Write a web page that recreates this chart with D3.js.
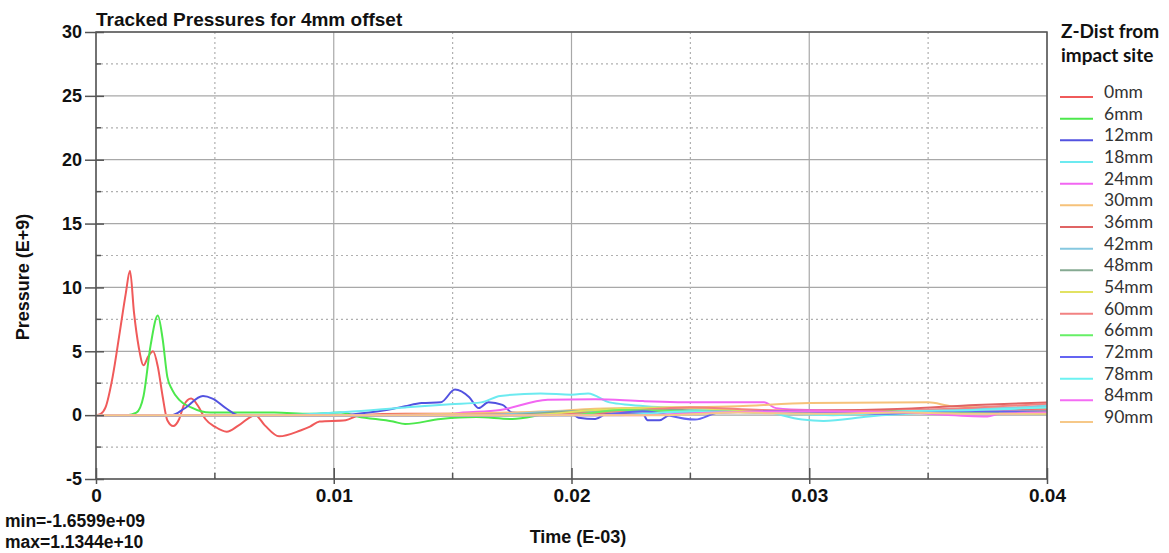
<!DOCTYPE html>
<html>
<head>
<meta charset="utf-8">
<script src="https://cdn.jsdelivr.net/npm/d3@7"></script>
<style>
  body { margin: 0; background: #fff; }
  svg { display: block; }
  .tick text { font-family: "Liberation Sans", Arial, sans-serif; font-weight: bold; font-size: 18px; fill: #111; }
  .xt .tick text { font-size: 19px; }
</style>
</head>
<body>
<svg id="chart" width="1169" height="553"></svg>
<script>
// Tick values
const yTicks = [-5, 0, 5, 10, 15, 20, 25, 30];
const yMinor = [-2.5, 2.5, 7.5, 12.5, 17.5, 22.5, 27.5];
const xTicks = [0, 0.01, 0.02, 0.03, 0.04];
const xMinor = [0.005, 0.015, 0.025, 0.035];

// Series names and colours
const seriesNames = ['0mm', '6mm', '12mm', '18mm', '24mm', '30mm', '36mm', '42mm',
    '48mm', '54mm', '60mm', '66mm', '72mm', '78mm', '84mm', '90mm'];
const seriesColors = ['#f05a5a', '#4ce84c', '#5252e0', '#6ceaf0', '#f266f2', '#f6c27a', '#e06464', '#86c8e0',
    '#86aa92', '#e2e262', '#f28282', '#66ef66', '#6464f2', '#6cf2f2', '#f46cf4', '#f6c888'];

// [time (E-03), pressure (E+9)]
const p0mm = [[0, 0], [0.0002, 0.1], [0.0004, 0.6], [0.0007, 3], [0.001, 6.5], [0.00125, 9.5], [0.00143, 11.3],
    [0.0016, 8], [0.0018, 5.3], [0.002, 3.9], [0.0022, 4.6], [0.0024, 5.0], [0.0026, 3.8], [0.0028, 1.5],
    [0.003, -0.4], [0.00325, -0.85], [0.0035, -0.3], [0.0037, 0.8], [0.004, 1.3], [0.0043, 0.7], [0.0046, -0.3],
    [0.005, -0.9], [0.0055, -1.3], [0.006, -0.8], [0.0067, 0], [0.0071, -0.8], [0.0077, -1.66], [0.0086, -1.2],
    [0.009, -0.9], [0.0094, -0.5], [0.0105, -0.4], [0.0111, 0], [0.013, 0.1], [0.016, 0.1], [0.02, 0.2],
    [0.025, 0.3], [0.03, 0.3], [0.035, 0.4], [0.04, 0.5]];
const p6mm = [[0, 0], [0.0013, 0], [0.0017, 0.2], [0.002, 1.5], [0.0023, 5.5], [0.0026, 7.8], [0.0028, 6],
    [0.003, 3], [0.0032, 2], [0.0035, 1.2], [0.004, 0.6], [0.0048, 0.2], [0.006, 0.2], [0.0075, 0.2],
    [0.009, 0.1], [0.0103, 0.2], [0.011, -0.1], [0.0125, -0.5], [0.013, -0.7], [0.0145, -0.3], [0.016, -0.15],
    [0.0175, -0.3], [0.019, 0.1], [0.021, 0.3], [0.025, 0.3], [0.03, 0.2], [0.035, 0.2], [0.04, 0.2]];
const p12mm = [[0, 0], [0.0032, 0], [0.0037, 0.5], [0.0045, 1.5], [0.0049, 1.3], [0.0055, 0.5], [0.006, 0],
    [0.008, 0], [0.0105, 0], [0.011, 0.1], [0.0125, 0.5], [0.013, 0.7], [0.0137, 0.95], [0.0145, 1.0],
    [0.0151, 2.0], [0.0157, 1.4], [0.0161, 0.55], [0.0165, 1.0], [0.0171, 0.8], [0.0175, 0.2], [0.0185, 0.1],
    [0.02, 0.1], [0.0203, -0.2], [0.021, -0.3], [0.0215, 0.1], [0.023, 0.1], [0.0232, -0.4], [0.0237, -0.4],
    [0.0241, 0], [0.026, 0.3], [0.03, 0.2], [0.035, 0.3], [0.04, 0.3]];
const p18mm = [[0, 0], [0.008, 0], [0.0095, 0.15], [0.0105, 0.25], [0.013, 0.6], [0.0149, 0.85], [0.0162, 1.0],
    [0.017, 1.5], [0.0187, 1.7], [0.02, 1.6], [0.0207, 1.7], [0.0216, 1.0], [0.0225, 0.8], [0.025, 0.5],
    [0.028, 0.3], [0.0297, -0.35], [0.0306, -0.45], [0.0325, -0.1], [0.035, 0.2], [0.038, 0.4], [0.04, 0.8]];
const p24mm = [[0, 0], [0.0148, 0], [0.015, 0.1], [0.017, 0.4], [0.019, 1.2], [0.021, 1.25], [0.023, 1.1],
    [0.0255, 1.0], [0.0281, 1.0], [0.0286, 0.55], [0.03, 0.4], [0.035, 0.3], [0.04, 0.3]];
const p30mm = [[0, 0], [0.01, 0], [0.015, 0.1], [0.019, 0.3], [0.021, 0.5], [0.024, 0.6], [0.027, 0.7],
    [0.03, 0.95], [0.035, 1.0], [0.036, 0.7], [0.038, 0.6], [0.04, 0.6]];
const p36mm = [[0, 0], [0.014, 0], [0.018, 0.05], [0.022, 0.2], [0.026, 0.3], [0.03, 0.35], [0.034, 0.5],
    [0.037, 0.8], [0.04, 1.0]];
const p42mm = [[0, 0], [0.016, 0], [0.02, 0.3], [0.024, 0.2], [0.028, 0.3], [0.032, 0.25], [0.036, 0.4], [0.04, 0.7]];
const p48mm = [[0, 0], [0.017, 0], [0.02, 0.3], [0.023, 0.5], [0.026, 0.3], [0.03, 0.15], [0.034, 0.2], [0.04, 0.3]];
const p54mm = [[0, 0], [0.018, 0], [0.021, 0.4], [0.024, 0.6], [0.027, 0.4], [0.031, 0.2], [0.035, 0.3], [0.04, 0.2]];
const p60mm = [[0, 0], [0.019, 0], [0.022, 0.3], [0.025, 0.6], [0.028, 0.4], [0.032, 0.3], [0.036, 0.5], [0.04, 0.9]];
const p66mm = [[0, 0], [0.02, 0], [0.022, 0.4], [0.025, 0.3], [0.029, 0.2], [0.031, 0.1], [0.034, 0.3],
    [0.037, 0.2], [0.04, 0.1]];
const p72mm = [[0, 0], [0.021, 0], [0.023, 0.3], [0.0252, -0.35], [0.0262, 0.2], [0.029, 0.3], [0.033, 0.1],
    [0.036, 0.3], [0.04, 0.2]];
const p78mm = [[0, 0], [0.022, 0], [0.025, 0.3], [0.028, 0.2], [0.031, 0.0], [0.034, 0.3], [0.037, 0.4], [0.04, 0.6]];
const p84mm = [[0, 0], [0.023, 0], [0.026, 0.2], [0.03, 0.3], [0.034, 0.2], [0.0375, -0.1], [0.038, 0.1], [0.04, 0.2]];
const p90mm = [[0, 0], [0.024, 0], [0.027, 0.2], [0.03, 0.1], [0.034, 0.2], [0.037, 0.1], [0.04, 0.1]];

const seriesData = [p0mm, p6mm, p12mm, p18mm, p24mm, p30mm, p36mm, p42mm,
    p48mm, p54mm, p60mm, p66mm, p72mm, p78mm, p84mm, p90mm];

const margin = { left: 96, top: 32, right: 1047, bottom: 479 };
const svg = d3.select('#chart');

const x = d3.scaleLinear().domain([0, 0.04]).range([margin.left, margin.right]);
const y = d3.scaleLinear().domain([-5, 30]).range([margin.bottom, margin.top]);

// Grid
const grid = svg.append('g');
grid.selectAll('.ymaj').data(yTicks).join('line')
    .attr('x1', margin.left).attr('x2', margin.right)
    .attr('y1', d => y(d)).attr('y2', d => y(d))
    .attr('stroke', '#a8a8a8').attr('stroke-width', 1.2);
grid.selectAll('.ymin').data(yMinor).join('line')
    .attr('x1', margin.left).attr('x2', margin.right)
    .attr('y1', d => y(d)).attr('y2', d => y(d))
    .attr('stroke', '#b0b0b0').attr('stroke-width', 1.2).attr('stroke-dasharray', '2,3');
grid.selectAll('.xmaj').data(xTicks).join('line')
    .attr('y1', margin.top).attr('y2', margin.bottom)
    .attr('x1', d => x(d)).attr('x2', d => x(d))
    .attr('stroke', '#a8a8a8').attr('stroke-width', 1.2);
grid.selectAll('.xmin').data(xMinor).join('line')
    .attr('y1', margin.top).attr('y2', margin.bottom)
    .attr('x1', d => x(d)).attr('x2', d => x(d))
    .attr('stroke', '#b0b0b0').attr('stroke-width', 1.2).attr('stroke-dasharray', '2,3');

// Series
const line = d3.line()
    .x(d => x(d[0]))
    .y(d => y(d[1]))
    .curve(d3.curveMonotoneX);

svg.append('g').selectAll('path').data(seriesData).join('path')
    .attr('d', line)
    .attr('fill', 'none')
    .attr('stroke', (d, i) => seriesColors[i])
    .attr('stroke-width', 2)
    .attr('stroke-linejoin', 'round');

// Border
svg.append('rect')
    .attr('x', margin.left).attr('y', margin.top)
    .attr('width', margin.right - margin.left).attr('height', margin.bottom - margin.top)
    .attr('fill', 'none').attr('stroke', '#555').attr('stroke-width', 1.5);

// Axes
const yAxis = d3.axisLeft(y).tickValues(yTicks).tickSize(11).tickSizeOuter(0).tickPadding(3)
    .tickFormat(d => String(d));
svg.append('g').attr('transform', `translate(${margin.left},0)`).call(yAxis)
    .call(g => g.select('.domain').remove())
    .call(g => g.selectAll('.tick line').attr('stroke', '#555').attr('stroke-width', 1.5).attr('x2', 8).attr('x1', -11));
svg.append('g').selectAll('line').data(yMinor).join('line')
    .attr('x1', margin.left).attr('x2', margin.left + 5)
    .attr('y1', d => y(d)).attr('y2', d => y(d))
    .attr('stroke', '#555').attr('stroke-width', 1.5);

const xAxis = d3.axisBottom(x).tickValues(xTicks).tickSize(5).tickSizeOuter(0).tickPadding(5)
    .tickFormat(d => d === 0 ? '0' : d3.format('.2f')(d));
svg.append('g').attr('class', 'xt').attr('transform', `translate(0,${margin.bottom})`).call(xAxis)
    .call(g => g.select('.domain').remove())
    .call(g => g.selectAll('.tick line').attr('stroke', '#555').attr('stroke-width', 1.5).attr('y1', -11).attr('y2', 5));
svg.append('g').selectAll('line').data(xMinor).join('line')
    .attr('x1', d => x(d)).attr('x2', d => x(d))
    .attr('y1', margin.bottom - 6).attr('y2', margin.bottom)
    .attr('stroke', '#555').attr('stroke-width', 1.5);

// Texts
const boldFont = '"Liberation Sans", Arial, sans-serif';
svg.append('text').attr('x', 96).attr('y', 26)
    .attr('font-family', boldFont).attr('font-weight', 'bold').attr('font-size', 19).attr('fill', '#111')
    .text('Tracked Pressures for 4mm offset');
svg.append('text').attr('transform', 'translate(29,277) rotate(-90)').attr('text-anchor', 'middle')
    .attr('font-family', boldFont).attr('font-weight', 'bold').attr('font-size', 18).attr('fill', '#111')
    .text('Pressure (E+9)');
svg.append('text').attr('x', 578).attr('y', 543).attr('text-anchor', 'middle')
    .attr('font-family', boldFont).attr('font-weight', 'bold').attr('font-size', 18).attr('fill', '#111')
    .text('Time (E-03)');
svg.append('text').attr('x', 5).attr('y', 527)
    .attr('font-family', boldFont).attr('font-weight', 'bold').attr('font-size', 17.5).attr('fill', '#111')
    .text('min=-1.6599e+09');
svg.append('text').attr('x', 5).attr('y', 548)
    .attr('font-family', boldFont).attr('font-weight', 'bold').attr('font-size', 17.5).attr('fill', '#111')
    .text('max=1.1344e+10');

// Legend
const legendFont = 'Lato, "Open Sans", sans-serif';
const legend = svg.append('g');
legend.append('text').attr('x', 1061).attr('y', 38)
    .attr('font-family', legendFont).attr('font-weight', 'bold').attr('font-size', 19).attr('fill', '#111')
    .selectAll('tspan').data(['Z-Dist from', 'impact site']).join('tspan')
    .attr('x', 1061).attr('dy', (d, i) => i ? 24 : 0).text(d => d);

const legendY = d3.scalePoint().domain(seriesNames).range([97, 422]);
const rows = legend.selectAll('.row').data(seriesNames).join('g')
    .attr('transform', d => `translate(0,${legendY(d)})`);
rows.append('line').attr('x1', 1060).attr('x2', 1093)
    .attr('stroke', (d, i) => seriesColors[i]).attr('stroke-width', 2);
rows.append('text').attr('x', 1104).attr('y', 1)
    .attr('font-family', legendFont).attr('font-size', 17.5).attr('fill', '#333')
    .text(d => d);
</script>
</body>
</html>
